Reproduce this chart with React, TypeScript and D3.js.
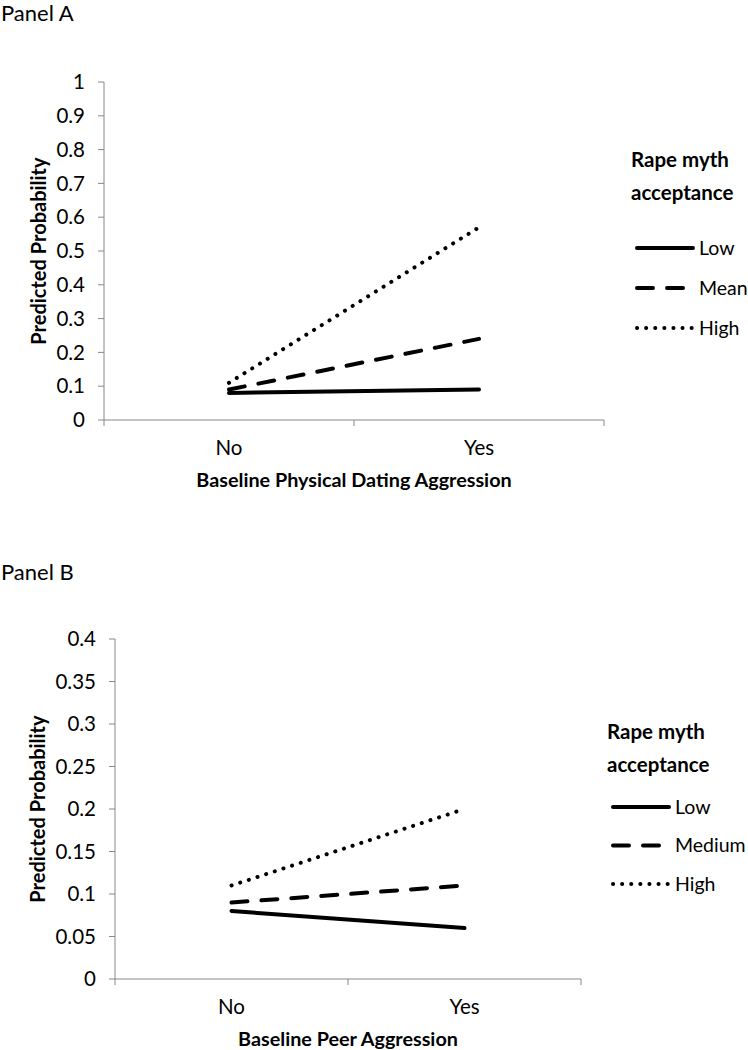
import React from "react";
import * as d3 from "d3";

const categories = ["No", "Yes"];

const panelASeriesNames = ["Low", "Mean", "High"];
const panelALow = [0.08, 0.09];
const panelAMean = [0.09, 0.24];
const panelAHigh = [0.11, 0.57];
const panelATicks = [0, 0.1, 0.2, 0.3, 0.4, 0.5, 0.6, 0.7, 0.8, 0.9, 1];

const panelBSeriesNames = ["Low", "Medium", "High"];
const panelBLow = [0.08, 0.06];
const panelBMedium = [0.09, 0.11];
const panelBHigh = [0.11, 0.2];
const panelBTicks = [0, 0.05, 0.1, 0.15, 0.2, 0.25, 0.3, 0.35, 0.4];

const FONT = "Lato, 'Open Sans', sans-serif";
const AXIS = "#888888";
const DASHES = [null, "16,14", "0.1,9"];

type PanelProps = {
  title: string;
  titleY: number;
  x0: number;
  x1: number;
  yTop: number;
  yBottom: number;
  ticks: number[];
  yMax: number;
  series: number[][];
  names: string[];
  xTitle: string;
  yTitleX: number;
  legendX: number;
  legendTitleY: number;
  legendFirstY: number;
  legendStep: number;
};

function Panel(p: PanelProps) {
  const x = d3.scalePoint<string>().domain(categories).range([p.x0, p.x1]).padding(0.5);
  const y = d3.scaleLinear().domain([0, p.yMax]).range([p.yBottom, p.yTop]);
  const band = (p.x1 - p.x0) / categories.length;
  const line = d3
    .line<number>()
    .x((_, i) => x(categories[i]) as number)
    .y((d) => y(d));
  const fmt = (v: number) => String(+v.toFixed(2));
  const xTickPos = d3.range(categories.length + 1).map((i) => p.x0 + i * band);
  return (
    <g>
      <text x={1} y={p.titleY} fontFamily={FONT} fontSize={22} fill="#000">
        {p.title}
      </text>
      {/* y axis */}
      <line x1={p.x0} x2={p.x0} y1={y(p.yMax)} y2={y(0)} stroke={AXIS} strokeWidth={1} />
      {p.ticks.map((t) => (
        <g key={t}>
          <line x1={p.x0 - 6} x2={p.x0} y1={y(t)} y2={y(t)} stroke={AXIS} strokeWidth={1} />
          <text
            x={p.x0 - 19}
            y={y(t)}
            dy="0.35em"
            textAnchor="end"
            fontFamily={FONT}
            fontSize={20.5}
            fill="#000"
          >
            {fmt(t)}
          </text>
        </g>
      ))}
      {/* x axis */}
      <line x1={p.x0} x2={p.x1} y1={y(0)} y2={y(0)} stroke={AXIS} strokeWidth={1} />
      {xTickPos.map((t, i) => (
        <line key={i} x1={t} x2={t} y1={y(0)} y2={y(0) + 6} stroke={AXIS} strokeWidth={1} />
      ))}
      {categories.map((c) => (
        <text
          key={c}
          x={x(c)}
          y={y(0) + 35}
          textAnchor="middle"
          fontFamily={FONT}
          fontSize={20.5}
          fill="#000"
        >
          {c}
        </text>
      ))}
      <text
        x={(p.x0 + p.x1) / 2}
        y={y(0) + 67}
        textAnchor="middle"
        fontFamily={FONT}
        fontWeight="bold"
        fontSize={19.8}
        fill="#000"
      >
        {p.xTitle}
      </text>
      <text
        transform={`translate(${p.yTitleX},${(y(0) + y(p.yMax)) / 2}) rotate(-90)`}
        textAnchor="middle"
        dy="0.35em"
        fontFamily={FONT}
        fontWeight="bold"
        fontSize={20}
        fill="#000"
      >
        Predicted Probability
      </text>
      {/* data lines */}
      {p.series.map((s, i) => (
        <path
          key={i}
          d={line(s) as string}
          fill="none"
          stroke="#000"
          strokeWidth={4}
          strokeLinecap="round"
          strokeDasharray={DASHES[i] ?? undefined}
        />
      ))}
      {/* legend */}
      <text x={p.legendX} y={p.legendTitleY} fontFamily={FONT} fontWeight="bold" fontSize={20.5} fill="#000">
        Rape myth
      </text>
      <text x={p.legendX} y={p.legendTitleY + 33} fontFamily={FONT} fontWeight="bold" fontSize={20.5} fill="#000">
        acceptance
      </text>
      {p.names.map((n, i) => {
        const ly = p.legendFirstY + i * p.legendStep;
        return (
          <g key={n}>
            <line
              x1={p.legendX + 6}
              x2={p.legendX + 62}
              y1={ly}
              y2={ly}
              stroke="#000"
              strokeWidth={4}
              strokeLinecap="round"
              strokeDasharray={DASHES[i] ?? undefined}
            />
            <text x={p.legendX + 68} y={ly} dy="0.35em" fontFamily={FONT} fontSize={19.5} fill="#000">
              {n}
            </text>
          </g>
        );
      })}
    </g>
  );
}

export default function App() {
  return (
    <svg
      width={748}
      height={1050}
      style={{ position: "absolute", left: 0, top: 0, background: "#fff" }}
    >
      <rect width={748} height={1050} fill="#fff" />
      <Panel
        title="Panel A"
        titleY={21}
        x0={104}
        x1={604}
        yTop={82}
        yBottom={420}
        ticks={panelATicks}
        yMax={1}
        series={[panelALow, panelAMean, panelAHigh]}
        names={panelASeriesNames}
        xTitle="Baseline Physical Dating Aggression"
        yTitleX={39}
        legendX={631}
        legendTitleY={167}
        legendFirstY={248}
        legendStep={40}
      />
      <Panel
        title="Panel B"
        titleY={580}
        x0={115}
        x1={581}
        yTop={639}
        yBottom={979}
        ticks={panelBTicks}
        yMax={0.4}
        series={[panelBLow, panelBMedium, panelBHigh]}
        names={panelBSeriesNames}
        xTitle="Baseline Peer Aggression"
        yTitleX={38}
        legendX={607}
        legendTitleY={739}
        legendFirstY={807}
        legendStep={38.5}
      />
    </svg>
  );
}
